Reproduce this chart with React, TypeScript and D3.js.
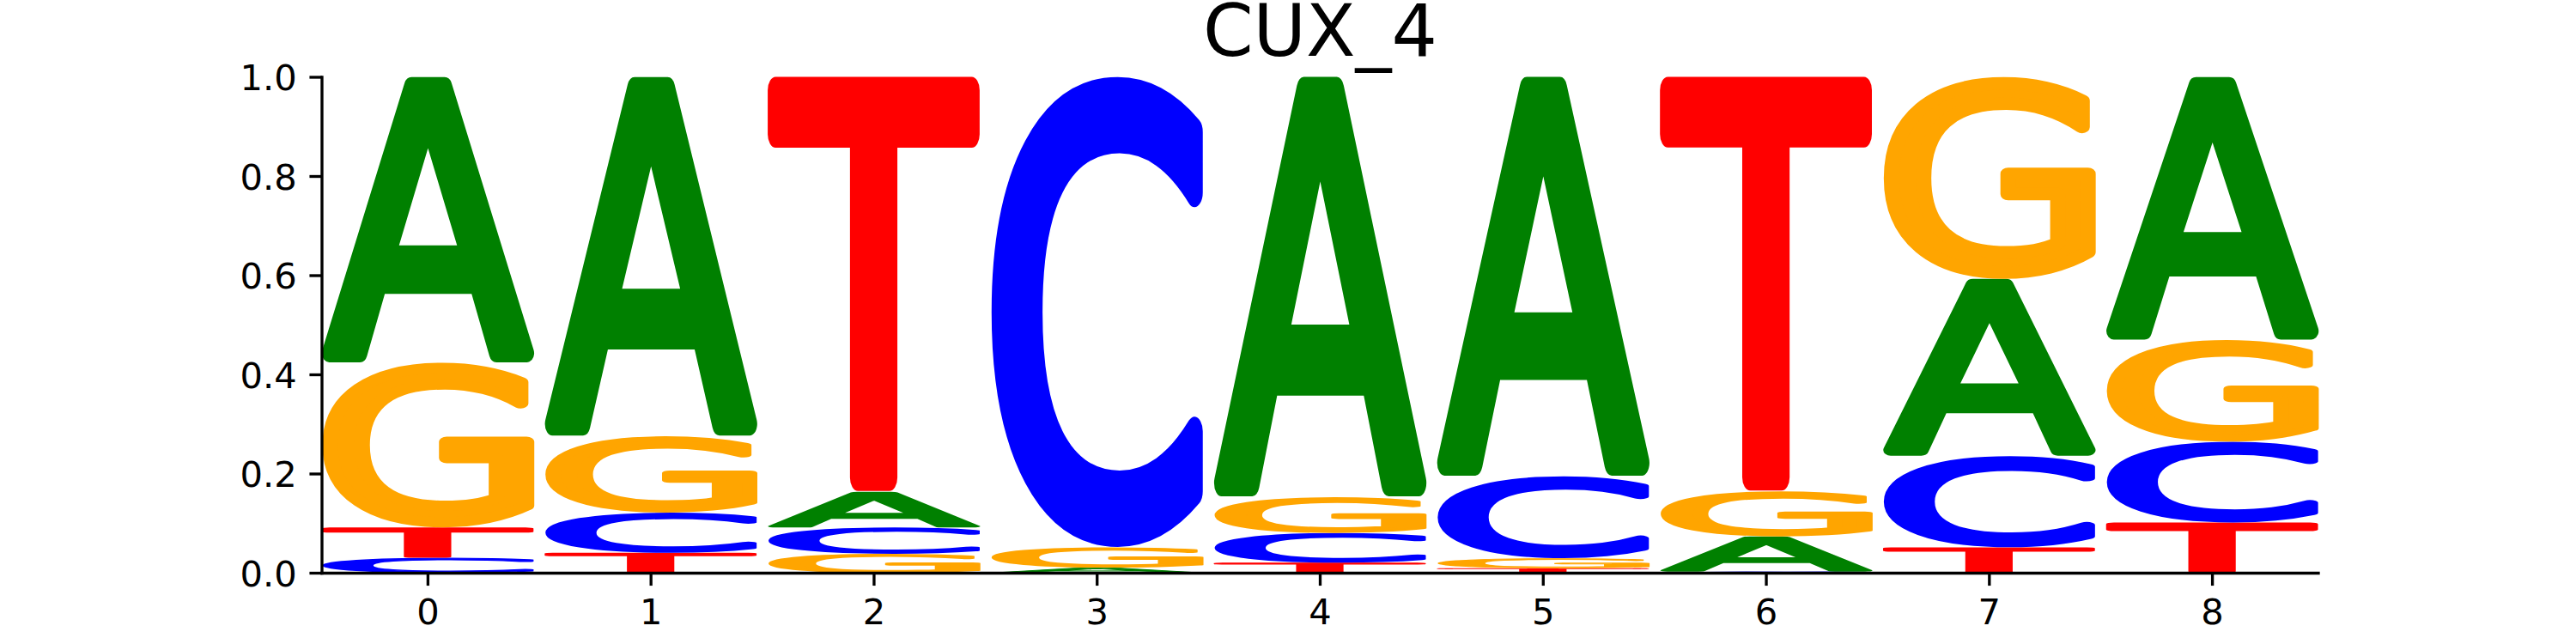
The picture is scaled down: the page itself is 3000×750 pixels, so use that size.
import { useMemo } from "react";
import * as d3 from "d3";

// figure size (px)
const W = 3000;
const H = 750;

const title = "CUX_4";
const positions = [0, 1, 2, 3, 4, 5, 6, 7, 8];
const bases = ["A", "C", "G", "T"];

// probability of each base per position
const probA = [0.576, 0.724, 0.072, 0.01, 0.847, 0.805, 0.071, 0.357, 0.53];
const probC = [0.031, 0.081, 0.053, 0.948, 0.06, 0.165, 0.003, 0.184, 0.163];
const probG = [0.332, 0.154, 0.039, 0.041, 0.072, 0.02, 0.091, 0.407, 0.205];
const probT = [0.061, 0.041, 0.836, 0.001, 0.021, 0.01, 0.835, 0.052, 0.102];

const yTicks = [0, 0.2, 0.4, 0.6, 0.8, 1.0];

const colors: Record<string, string> = {
  A: "#008000",
  C: "#0000ff",
  G: "#ffa500",
  T: "#ff0000",
};

const FONT = "DejaVu Sans";
const GLYPH_PX = 100;
const GLYPH_STROKE = 5; // rounds the corners a little
const GLYPH_WIDTH = 0.95;

const margin = { left: 375, right: 300, top: 90, bottom: 82.5 };
const tickPx = 41.67;
const tickLen = 14.58;
const lw = 3.33;

// ink bounds of each glyph (fill + round stroke), found by scanning a canvas
function useGlyphBoxes() {
  return useMemo(() => {
    const k = 3; // oversample
    const size = GLYPH_PX * k * 2;
    const ox = GLYPH_PX * k * 0.5;
    const oy = GLYPH_PX * k * 1.4;
    const canvas = document.createElement("canvas");
    canvas.width = size;
    canvas.height = size;
    const ctx = canvas.getContext("2d")!;
    const out: Record<string, { l: number; r: number; t: number; b: number }> = {};
    bases.forEach((ch) => {
      ctx.clearRect(0, 0, size, size);
      ctx.font = `${GLYPH_PX * k}px "${FONT}"`;
      ctx.fillStyle = "#000";
      ctx.strokeStyle = "#000";
      ctx.lineWidth = GLYPH_STROKE * k;
      ctx.lineJoin = "round";
      ctx.fillText(ch, ox, oy);
      ctx.strokeText(ch, ox, oy);
      const data = ctx.getImageData(0, 0, size, size).data;
      let minX = size, maxX = -1, minY = size, maxY = -1;
      for (let yy = 0; yy < size; yy++) {
        for (let xx = 0; xx < size; xx++) {
          if (data[(yy * size + xx) * 4 + 3] > 110) {
            if (xx < minX) minX = xx;
            if (xx > maxX) maxX = xx;
            if (yy < minY) minY = yy;
            if (yy > maxY) maxY = yy;
          }
        }
      }
      out[ch] = {
        l: (minX - ox) / k,
        r: (maxX + 1 - ox) / k,
        t: (minY - oy) / k,
        b: (maxY + 1 - oy) / k,
      };
    });
    return out;
  }, []);
}

export default function App() {
  const boxes = useGlyphBoxes();

  const x = d3
    .scaleLinear()
    .domain([-GLYPH_WIDTH / 2, positions[positions.length - 1] + GLYPH_WIDTH / 2])
    .range([margin.left, W - margin.right]);
  const y = d3.scaleLinear().domain([0, 1]).range([H - margin.bottom, margin.top]);

  const probs: Record<string, number[]> = { A: probA, C: probC, G: probG, T: probT };

  // stack letters smallest at the bottom
  const glyphs: { ch: string; pos: number; y0: number; y1: number }[] = [];
  positions.forEach((p, i) => {
    const order = bases
      .map((b) => ({ b, v: probs[b][i] }))
      .sort((a, c) => a.v - c.v);
    let acc = 0;
    order.forEach(({ b, v }) => {
      glyphs.push({ ch: b, pos: p, y0: acc, y1: acc + v });
      acc += v;
    });
  });

  const x0 = x.range()[0];
  const x1 = x.range()[1];
  const yb = y(0);
  const yt = y(1);

  return (
    <svg
      width={W}
      height={H}
      style={{ position: "absolute", left: 0, top: 0, background: "#fff" }}
      fontFamily={FONT}
    >
      <rect width={W} height={H} fill="#fff" />

      {glyphs.map((g, i) => {
        const bx = boxes[g.ch];
        const left = x(g.pos - GLYPH_WIDTH / 2);
        const right = x(g.pos + GLYPH_WIDTH / 2);
        const top = y(g.y1);
        const bottom = y(g.y0);
        const sx = (right - left) / (bx.r - bx.l);
        const sy = (bottom - top) / (bx.b - bx.t);
        if (!(sy > 0) || !isFinite(sx)) return null;
        return (
          <text
            key={i}
            transform={`translate(${left},${top}) scale(${sx},${sy}) translate(${-bx.l},${-bx.t})`}
            fontSize={GLYPH_PX}
            fill={colors[g.ch]}
            stroke={colors[g.ch]}
            strokeWidth={GLYPH_STROKE}
            strokeLinejoin="round"
          >
            {g.ch}
          </text>
        );
      })}

      {/* spines */}
      <line x1={x0} x2={x0} y1={yt} y2={yb} stroke="#000" strokeWidth={lw} strokeLinecap="square" />
      <line x1={x0} x2={x1} y1={yb} y2={yb} stroke="#000" strokeWidth={lw} strokeLinecap="square" />

      {/* y ticks */}
      {yTicks.map((t) => (
        <g key={`y${t}`}>
          <line x1={x0 - tickLen} x2={x0} y1={y(t)} y2={y(t)} stroke="#000" strokeWidth={lw} />
          <text
            x={x0 - tickLen - 14.58}
            y={y(t) + 15.2}
            fontSize={tickPx}
            textAnchor="end"
            fill="#000"
          >
            {t.toFixed(1)}
          </text>
        </g>
      ))}

      {/* x ticks */}
      {positions.map((p) => (
        <g key={`x${p}`}>
          <line x1={x(p)} x2={x(p)} y1={yb} y2={yb + tickLen} stroke="#000" strokeWidth={lw} />
          <text x={x(p)} y={yb + tickLen + 14.58 + 30.4} fontSize={tickPx} textAnchor="middle" fill="#000">
            {p}
          </text>
        </g>
      ))}

      <text x={(x0 + x1) / 2} y={yt - 25} fontSize={84} textAnchor="middle" fill="#000">
        {title}
      </text>
    </svg>
  );
}
